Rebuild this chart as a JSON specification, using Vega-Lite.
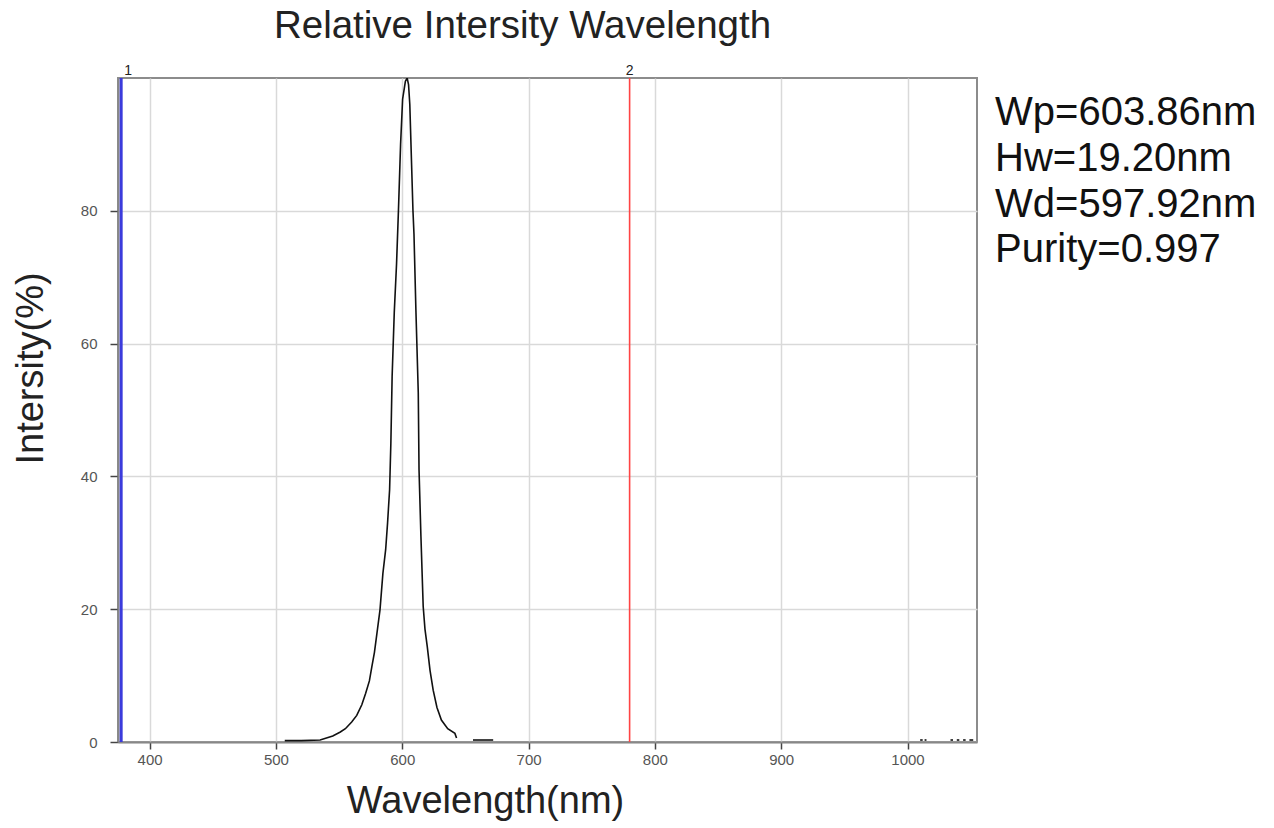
{
  "$schema": "https://vega.github.io/schema/vega-lite/v6.json",
  "autosize": {"type": "none"},
  "padding": {"left": 118, "top": 78, "right": 297, "bottom": 86},
  "width": 859,
  "height": 664,
  "background": "white",
  "title": {
    "text": "Relative Intersity Wavelength",
    "fontSize": 38.5,
    "fontWeight": "normal",
    "font": "Liberation Sans",
    "color": "#222222",
    "anchor": "middle",
    "dx": -25,
    "baseline": "bottom",
    "offset": -20
  },
  "config": {
    "font": "Liberation Sans",
    "view": {"stroke": "#8c8c8c", "strokeWidth": 2}
  },
  "datasets": {
    "spectrum": [
      {"seg": "a", "wl": 507, "i": 0.2},
      {"seg": "a", "wl": 520, "i": 0.2},
      {"seg": "a", "wl": 535, "i": 0.3},
      {"seg": "a", "wl": 545, "i": 0.9},
      {"seg": "a", "wl": 551, "i": 1.5},
      {"seg": "a", "wl": 555, "i": 2.0},
      {"seg": "a", "wl": 560, "i": 3.0},
      {"seg": "a", "wl": 564, "i": 4.0},
      {"seg": "a", "wl": 568, "i": 5.6},
      {"seg": "a", "wl": 571, "i": 7.3},
      {"seg": "a", "wl": 574, "i": 9.2},
      {"seg": "a", "wl": 576, "i": 11.4},
      {"seg": "a", "wl": 578, "i": 13.5},
      {"seg": "a", "wl": 580, "i": 16.4},
      {"seg": "a", "wl": 582.4, "i": 19.9},
      {"seg": "a", "wl": 584.7, "i": 25.4},
      {"seg": "a", "wl": 586.9, "i": 29},
      {"seg": "a", "wl": 588.4, "i": 33},
      {"seg": "a", "wl": 590.0, "i": 38},
      {"seg": "a", "wl": 591, "i": 45},
      {"seg": "a", "wl": 592, "i": 55},
      {"seg": "a", "wl": 593.7, "i": 64.7},
      {"seg": "a", "wl": 595.5, "i": 72},
      {"seg": "a", "wl": 597, "i": 80},
      {"seg": "a", "wl": 598.7, "i": 90},
      {"seg": "a", "wl": 600.3, "i": 96.8},
      {"seg": "a", "wl": 602.5, "i": 99.5},
      {"seg": "a", "wl": 603.9, "i": 100},
      {"seg": "a", "wl": 605, "i": 99},
      {"seg": "a", "wl": 606, "i": 96},
      {"seg": "a", "wl": 607.4, "i": 87},
      {"seg": "a", "wl": 608.5, "i": 80},
      {"seg": "a", "wl": 609.3, "i": 76.5},
      {"seg": "a", "wl": 610.8, "i": 65.2},
      {"seg": "a", "wl": 612.7, "i": 52.6},
      {"seg": "a", "wl": 613.3, "i": 41},
      {"seg": "a", "wl": 614.8, "i": 31},
      {"seg": "a", "wl": 616.6, "i": 20.4},
      {"seg": "a", "wl": 618, "i": 17},
      {"seg": "a", "wl": 619.8, "i": 14.4},
      {"seg": "a", "wl": 622, "i": 10.8},
      {"seg": "a", "wl": 624.5, "i": 7.8},
      {"seg": "a", "wl": 627.5, "i": 5.2},
      {"seg": "a", "wl": 631, "i": 3.3},
      {"seg": "a", "wl": 636, "i": 2.0},
      {"seg": "a", "wl": 641.7, "i": 1.3},
      {"seg": "a", "wl": 643, "i": 0.6},
      {"seg": "b", "wl": 656, "i": 0.3},
      {"seg": "b", "wl": 672, "i": 0.3},
      {"seg": "c", "wl": 1010, "i": 0.3},
      {"seg": "c", "wl": 1012, "i": 0.3},
      {"seg": "d", "wl": 1013.5, "i": 0.3},
      {"seg": "d", "wl": 1015, "i": 0.3},
      {"seg": "e", "wl": 1034, "i": 0.3},
      {"seg": "e", "wl": 1036, "i": 0.3},
      {"seg": "f", "wl": 1039, "i": 0.3},
      {"seg": "f", "wl": 1041, "i": 0.3},
      {"seg": "g", "wl": 1044, "i": 0.3},
      {"seg": "g", "wl": 1046, "i": 0.3},
      {"seg": "h", "wl": 1049, "i": 0.3},
      {"seg": "h", "wl": 1052, "i": 0.3}
    ],
    "markers": [
      {"wl": 377.5, "label": "1"},
      {"wl": 780, "label": "2"}
    ],
    "info": [
      {"info": "Wp=603.86nm\nHw=19.20nm\nWd=597.92nm\nPurity=0.997"}
    ]
  },
  "layer": [
    {
      "data": {"name": "spectrum"},
      "mark": {"type": "line", "color": "#111111", "strokeWidth": 1.6, "clip": true},
      "encoding": {
        "x": {
          "field": "wl",
          "type": "quantitative",
          "scale": {"domain": [375, 1055], "nice": false, "zero": false},
          "axis": {
            "values": [400, 500, 600, 700, 800, 900, 1000],
            "format": "d",
            "grid": true,
            "gridColor": "#d9d9d9",
            "gridWidth": 1.5,
            "domainColor": "#888888",
            "domainWidth": 2,
            "tickColor": "#444444",
            "tickSize": 7,
            "tickWidth": 1.5,
            "labelFontSize": 15,
            "labelColor": "#555555",
            "labelPadding": 3,
            "title": "Wavelength(nm)",
            "titleFontSize": 38,
            "titleFontWeight": "normal",
            "titleColor": "#222222",
            "titleAlign": "center",
            "titleBaseline": "alphabetic",
            "titleX": 367,
            "titleY": 70
          }
        },
        "y": {
          "field": "i",
          "type": "quantitative",
          "scale": {"domain": [0, 100], "nice": false},
          "axis": {
            "values": [0, 20, 40, 60, 80],
            "grid": true,
            "gridColor": "#d9d9d9",
            "gridWidth": 1.5,
            "domainColor": "#888888",
            "domainWidth": 2,
            "tickColor": "#444444",
            "tickSize": 8,
            "tickWidth": 1.5,
            "labelFontSize": 15,
            "labelColor": "#555555",
            "labelPadding": 13,
            "title": "Intersity(%)",
            "titleFontSize": 38,
            "titleFontWeight": "normal",
            "titleColor": "#222222",
            "titleAlign": "center",
            "titleBaseline": "alphabetic",
            "titleAngle": 270,
            "titleX": -76,
            "titleY": 290
          }
        },
        "detail": {"field": "seg"}
      }
    },
    {
      "data": {"name": "markers"},
      "transform": [{"filter": "datum.label === '1'"}],
      "mark": {"type": "rule", "color": "#3b3bdc", "strokeWidth": 3},
      "encoding": {"x": {"field": "wl", "type": "quantitative"}}
    },
    {
      "data": {"name": "markers"},
      "transform": [{"filter": "datum.label === '2'"}],
      "mark": {"type": "rule", "color": "#ff4444", "strokeWidth": 1.6},
      "encoding": {"x": {"field": "wl", "type": "quantitative"}}
    },
    {
      "data": {"name": "markers"},
      "transform": [{"filter": "datum.label === '1'"}],
      "mark": {"type": "text", "fontSize": 14, "color": "#222222", "baseline": "alphabetic", "align": "center", "dx": 7, "dy": -3},
      "encoding": {
        "x": {"field": "wl", "type": "quantitative"},
        "y": {"datum": 100},
        "text": {"field": "label"}
      }
    },
    {
      "data": {"name": "markers"},
      "transform": [{"filter": "datum.label === '2'"}],
      "mark": {"type": "text", "fontSize": 14, "color": "#222222", "baseline": "alphabetic", "align": "center", "dy": -3},
      "encoding": {
        "x": {"field": "wl", "type": "quantitative"},
        "y": {"datum": 100},
        "text": {"field": "label"}
      }
    },
    {
      "data": {"name": "info"},
      "mark": {"type": "text", "fontSize": 40, "color": "#111111", "align": "left", "baseline": "alphabetic", "lineBreak": "\n", "lineHeight": 45.7},
      "encoding": {
        "x": {"datum": 1069.3},
        "y": {"datum": 92.9},
        "text": {"field": "info"}
      }
    }
  ]
}
